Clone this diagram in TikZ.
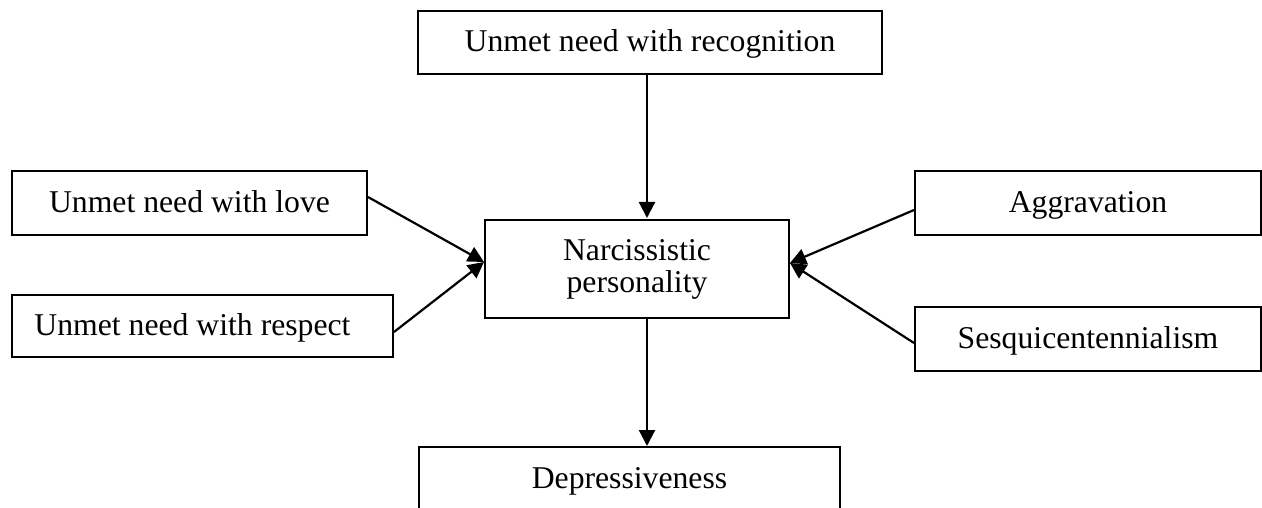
\documentclass[tikz,border=0pt]{standalone}
\usepackage{fontspec}
\setmainfont{Liberation Serif}
\usetikzlibrary{arrows.meta}
\begin{document}
\begin{tikzpicture}[x=1pt,y=-1pt,
  box/.style={draw=black, line width=2pt, rectangle, inner sep=0pt,
    font=\fontsize{31.7}{32}\selectfont, text height=22pt, text depth=4pt},
  link/.style={line width=2.2pt, -{Triangle[length=16pt,width=16pt]}}]
  \useasboundingbox (0,0) rectangle (1262,508);
  \clip (0,0) rectangle (1262,508);
  % factor boxes
  \node[box, minimum width=464pt, minimum height=63pt] (rec) at (650,42.5) {Unmet need with recognition};
  \node[box, minimum width=355pt, minimum height=64pt] (love) at (189.5,203) {Unmet need with love};
  \node[box, minimum width=381pt, minimum height=62pt] (resp) at (202.5,326) {Unmet need with respect\hspace*{20pt}};
  \node[box, minimum width=346pt, minimum height=64pt] (agg) at (1088,203) {Aggravation};
  \node[box, minimum width=346pt, minimum height=64pt] (ses) at (1088,339) {Sesquicentennialism};
  % central box
  \node[box, align=center, text height=, text depth=, minimum width=304pt, minimum height=98pt] (nar) at (637,269) {Narcissistic\\personality};
  % outcome box
  \node[box, minimum width=421pt, minimum height=64pt] (dep) at (629.5,479) {Depressiveness};
  % arrows into the central box
  \draw[link] ([xshift=-3pt]rec.south) -- ([xshift=10pt,yshift=1pt]nar.north);
  \draw[link] ([yshift=6pt]love.east) -- ([yshift=7pt]nar.west);
  \draw[link] ([yshift=-6pt]resp.east) -- ([yshift=7pt]nar.west);
  \draw[link] ([yshift=-7pt]agg.west) -- ([yshift=6pt]nar.east);
  \draw[link] ([yshift=-4pt]ses.west) -- ([yshift=6pt]nar.east);
  % arrow to the outcome
  \draw[link] ([xshift=10pt,yshift=1pt]nar.south) -- ([xshift=17.5pt]dep.north);
\end{tikzpicture}
\end{document}
